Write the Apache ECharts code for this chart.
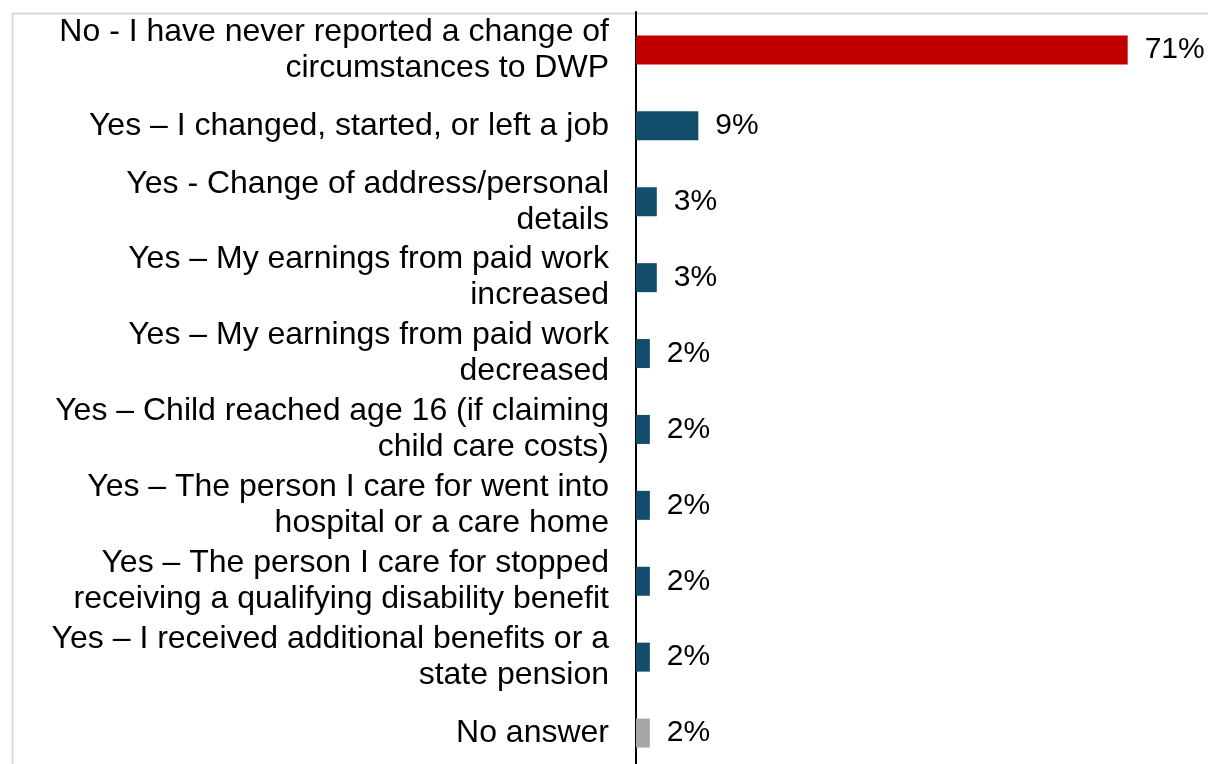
<!DOCTYPE html>
<html>
<head>
<meta charset="utf-8">
<style>
  html, body { margin: 0; padding: 0; background: #fff; overflow: hidden; width: 1208px; height: 764px; }
  #chart { width: 1208px; height: 790px; }
</style>
<script src="https://cdn.jsdelivr.net/npm/echarts@6/dist/echarts.min.js"></script>
</head>
<body>
<div id="chart"></div>
<script>
// Reported changes of circumstances to DWP (% of respondents)
const categories = [
  'No - I have never reported a change of\ncircumstances to DWP',
  'Yes – I changed, started, or left a job',
  'Yes - Change of address/personal\ndetails',
  'Yes – My earnings from paid work\nincreased',
  'Yes – My earnings from paid work\ndecreased',
  'Yes – Child reached age 16 (if claiming\nchild care costs)',
  'Yes – The person I care for went into\nhospital or a care home',
  'Yes – The person I care for stopped\nreceiving a qualifying disability benefit',
  'Yes – I received additional benefits or a\nstate pension',
  'No answer'
];
const values = [71, 9, 3, 3, 2, 2, 2, 2, 2, 2];
const barColors = ['#C00000', '#124E6B', '#124E6B', '#124E6B', '#124E6B',
                   '#124E6B', '#124E6B', '#124E6B', '#124E6B', '#A6A6A6'];

const chart = echarts.init(document.getElementById('chart'), null, { renderer: 'canvas' });
const font = '"Liberation Sans", Arial, sans-serif';

chart.setOption({
  animation: false,
  graphic: [{
    type: 'rect',
    left: 10, top: 11,
    shape: { width: 1400, height: 900 },
    style: { fill: 'none', stroke: '#D9D9D9', lineWidth: 2 },
    silent: true,
    z: -1
  }],
  grid: { left: 636, top: 12, width: 554, height: 759, containLabel: false },
  xAxis: {
    type: 'value', min: 0, max: 80,
    show: false
  },
  yAxis: {
    type: 'category',
    data: categories,
    inverse: true,
    axisLine: { show: true, lineStyle: { color: '#000', width: 2 } },
    axisTick: { show: false },
    axisLabel: {
      margin: 27,
      color: '#000',
      fontFamily: font,
      fontSize: 32,
      lineHeight: 36,
      padding: [4, 0, 0, 0],
      align: 'right'
    }
  },
  series: [{
    type: 'bar',
    data: values.map((v, i) => ({ value: v, itemStyle: { color: barColors[i] } })),
    barWidth: 29,
    label: {
      show: true,
      position: 'right',
      distance: 17,
      formatter: '{c}%',
      color: '#000',
      fontFamily: font,
      fontSize: 30
    }
  }]
});
</script>
</body>
</html>
